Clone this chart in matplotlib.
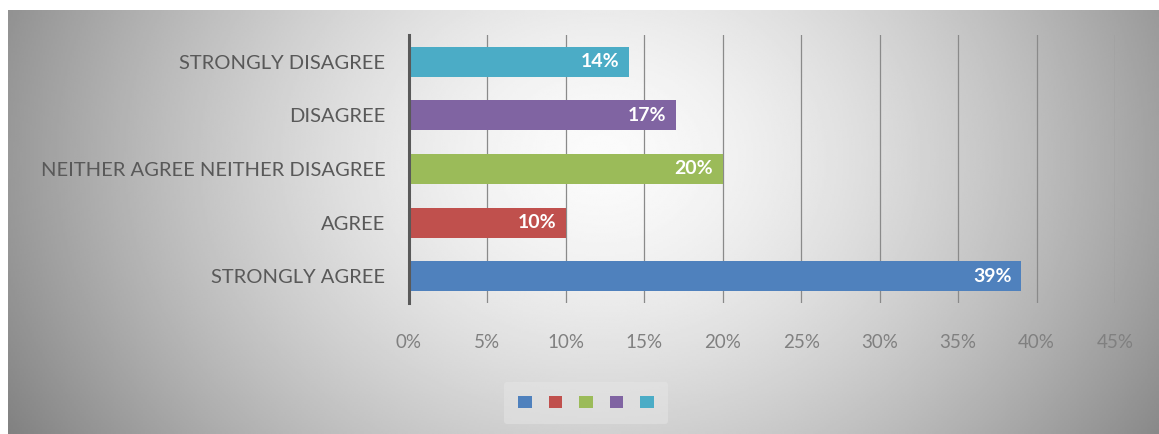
import numpy as np
import matplotlib
matplotlib.use("Agg")
import matplotlib.pyplot as plt
from matplotlib.patches import Patch

categories = ["STRONGLY AGREE", "AGREE", "NEITHER AGREE NEITHER DISAGREE",
              "DISAGREE", "STRONGLY DISAGREE"]
values = [39, 10, 20, 17, 14]
colors = ["#4F81BD", "#C0504D", "#9BBB59", "#8064A2", "#4BACC6"]
xticks = [0, 5, 10, 15, 20, 25, 30, 35, 40, 45]

plt.rcParams["font.family"] = ["Lato", "DejaVu Sans"]

W, H = 1159, 434
fig = plt.figure(figsize=(W / 100, H / 100), dpi=100, facecolor="white")

# gradient panel (light centre, grey edges)
bg = fig.add_axes([8 / W, 0, 1 - 8 / W, 424 / H])
bg.set_axis_off()
gx, gy = np.meshgrid(np.linspace(-1, 1, 600), np.linspace(-1, 1, 220))
r = np.sqrt(((gx - 0.03)) ** 2 + ((gy + 0.3) / 2.2) ** 2)
shade = np.clip(0.985 - 0.37 * r ** 1.5, 0, 1)
bg.imshow(shade, cmap="gray", vmin=0, vmax=1, aspect="auto",
          extent=[0, 1, 0, 1], origin="upper")

ax = fig.add_axes([409 / W, 1 - 303 / H, (1115 - 409) / W, (303 - 35) / H])
ax.patch.set_alpha(0)

y = np.arange(len(categories))
bars = ax.barh(y, values, height=0.56, color=colors, zorder=3)

for bar, v in zip(bars, values):
    ax.text(bar.get_width() - 0.6, bar.get_y() + bar.get_height() / 2,
            f"{v}%", ha="right", va="center", color="white",
            fontsize=14, fontweight="bold", zorder=4)

ax.set_xlim(0, 45)
ax.set_ylim(-0.5, 4.5)
ax.set_xticks(xticks)
ax.set_xticklabels([f"{t}%" for t in xticks])
ax.set_yticks(y)
ax.set_yticklabels(categories)

ax.grid(axis="x", color="#8a8a8a", linewidth=0.9, zorder=1)
ax.set_axisbelow(True)
for s in ["top", "right", "bottom"]:
    ax.spines[s].set_visible(False)
ax.spines["left"].set_color("#595959")
ax.spines["left"].set_linewidth(2.2)
ax.spines["left"].set_zorder(5)

ax.tick_params(axis="x", length=0, pad=22, labelsize=13.5, labelcolor="#808080")
ax.tick_params(axis="y", length=0, pad=17, labelsize=14.5, labelcolor="#595959")

handles = [Patch(facecolor=c) for c in colors]
leg = fig.legend(handles, [""] * len(colors), ncol=5,
                 loc="center", bbox_to_anchor=(586 / W, 1 - 403 / H),
                 handlelength=0.9, handleheight=0.9, handletextpad=0,
                 columnspacing=1.1, frameon=True, fontsize=11,
                 borderpad=0.9)
leg.get_frame().set_facecolor("#e6e6e6")
leg.get_frame().set_alpha(0.5)
leg.get_frame().set_edgecolor("none")

fig.savefig("out.png", dpi=100, facecolor=fig.get_facecolor())
